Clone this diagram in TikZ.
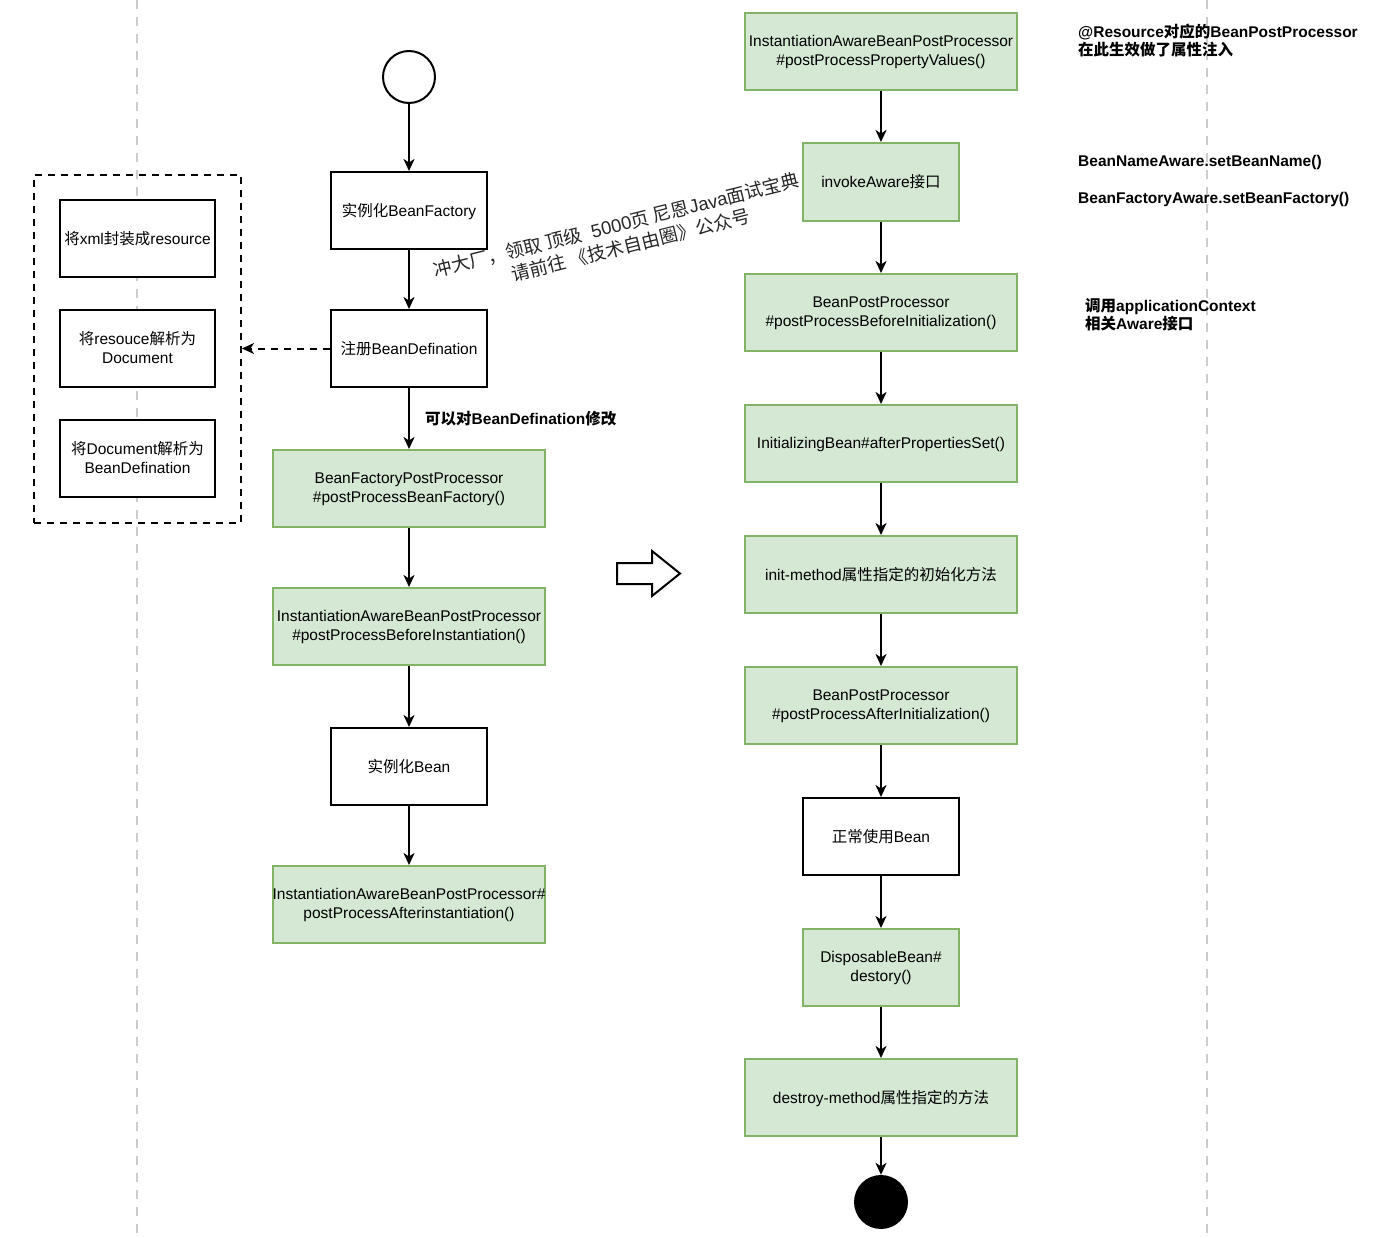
\documentclass[tikz,border=0pt]{standalone}
\usepackage{fontspec}
\setmainfont{Liberation Sans}
\newfontfamily\cjk{Noto Sans CJK SC}
\newcommand{\zh}[1]{{\cjk #1}}
\usetikzlibrary{arrows.meta}
\definecolor{gfill}{HTML}{D5E8D4}
\definecolor{gline}{HTML}{82B366}
\definecolor{guide}{HTML}{CCCCCC}
\begin{document}
\begin{tikzpicture}[x=1pt,y=-1pt,
  every node/.style={font=\fontsize{15.5}{19}\selectfont},
  plainbox/.style={draw=black,line width=2pt,fill=white,minimum width=156pt,minimum height=77pt,inner sep=0pt,align=center,text depth=1.5pt},
  widebox/.style={plainbox,minimum width=272pt},
  greenbox/.style={draw=gline,line width=2pt,fill=gfill,minimum height=77pt,inner sep=0pt,align=center,text depth=1.5pt},
  gwide/.style={greenbox,minimum width=272pt},
  gnarrow/.style={greenbox,minimum width=156pt},
  flow/.style={draw=black,line width=2pt,-{Stealth[length=12pt,width=11pt,inset=3.5pt]}},
  note/.style={anchor=west,align=left,inner sep=0pt,font=\fontsize{15.5}{18}\selectfont\bfseries},
  guideline/.style={draw=guide,line width=2.5pt,dash pattern=on 9pt off 8pt}
]
\useasboundingbox (0,0) rectangle (1400,1237);
\fill[white] (0,0) rectangle (1400,1237);
% guides
\coordinate (g1t) at (137,0); \coordinate (g1b) at (137,1237);
\coordinate (g2t) at (1207,0); \coordinate (g2b) at (1207,1237);
\path[guideline] (g1t) -- (g1b);
\path[guideline] (g2t) -- (g2b);

% watermark
\node[rotate=14,align=center,inner sep=0pt,text=black!85,font=\fontsize{18.5}{23}\selectfont] (wm) at (628,234)
  {\zh{冲大厂，领取 顶级}\ \ 5000\zh{页 尼恩}Java\zh{面试宝典，}\\\zh{请前往 《技术自由圈》公众号}};

% left dashed group
\node[draw=black,line width=2pt,dash pattern=on 7pt off 6pt,minimum width=207pt,minimum height=348pt,inner sep=0pt] (grp) at (137.5,349) {};
\node[plainbox,minimum width=155pt] (x1) at (137.5,238.5) {\zh{将}xml\zh{封装成}resource};
\node[plainbox,minimum width=155pt] (x2) at (137.5,348.5) {\zh{将}resouce\zh{解析为}\\Document};
\node[plainbox,minimum width=155pt] (x3) at (137.5,458.5) {\zh{将}Document\zh{解析为}\\BeanDefination};

% left column
\node[circle,draw=black,line width=2pt,fill=white,minimum size=52pt,inner sep=0pt] (start) at (409,77) {};
\node[plainbox] (bf) at (409,210.5) {\zh{实例化}BeanFactory};
\node[plainbox] (reg) at (409,348.5) {\zh{注册}BeanDefination};
\node[gwide] (bfpp) at (409,488.5) {BeanFactoryPostProcessor\\\#postProcessBeanFactory()};
\node[gwide] (iab) at (409,626.5) {InstantiationAwareBeanPostProcessor\\\#postProcessBeforeInstantiation()};
\node[plainbox] (inst) at (409,766.5) {\zh{实例化}Bean};
\node[gwide] (iaa) at (409,904.5) {InstantiationAwareBeanPostProcessor\#\\postProcessAfterinstantiation()};

\draw[flow] (start) -- (bf);
\draw[flow] (bf) -- (reg);
\draw[flow] (reg) -- (bfpp);
\draw[flow] (bfpp) -- (iab);
\draw[flow] (iab) -- (inst);
\draw[flow] (inst) -- (iaa);
\draw[flow,dash pattern=on 7pt off 6pt] (reg.west) -- (grp.east |- reg.west);

\node[note] (lbl) at (425,419) {\zh{可以对}BeanDefination\zh{修改}};

% hollow arrow
\coordinate (h1) at (617,563); \coordinate (h2) at (652,563); \coordinate (h3) at (652,551);
\coordinate (h4) at (680,573.5); \coordinate (h5) at (652,596); \coordinate (h6) at (652,584);
\coordinate (h7) at (617,584);
\draw[line width=2pt,fill=white,line join=miter] (h1) -- (h2) -- (h3) -- (h4) -- (h5) -- (h6) -- (h7) -- cycle;

% right column
\node[gwide] (ppv) at (881,51.5) {InstantiationAwareBeanPostProcessor\\\#postProcessPropertyValues()};
\node[gnarrow,minimum height=78pt] (aw) at (881,182) {invokeAware\zh{接口}};
\node[gwide] (bpb) at (881,312.5) {BeanPostProcessor\\\#postProcessBeforeInitialization()};
\node[gwide] (ibs) at (881,443.5) {InitializingBean\#afterPropertiesSet()};
\node[gwide] (im) at (881,574.5) {init-method\zh{属性指定的初始化方法}};
\node[gwide] (bpa) at (881,705.5) {BeanPostProcessor\\\#postProcessAfterInitialization()};
\node[plainbox] (use) at (881,836.5) {\zh{正常使用}Bean};
\node[gnarrow] (disp) at (881,967.5) {DisposableBean\#\\destory()};
\node[gwide] (dm) at (881,1097.5) {destroy-method\zh{属性指定的方法}};
\node[circle,fill=black,minimum size=54pt,inner sep=0pt] (end) at (881,1202) {};

\draw[flow] (ppv) -- (aw);
\draw[flow] (aw) -- (bpb);
\draw[flow] (bpb) -- (ibs);
\draw[flow] (ibs) -- (im);
\draw[flow] (im) -- (bpa);
\draw[flow] (bpa) -- (use);
\draw[flow] (use) -- (disp);
\draw[flow] (disp) -- (dm);
\draw[flow] (dm) -- (end);

% notes
\node[note] (n1) at (1078,41) {@Resource\zh{对应的}BeanPostProcessor\\\zh{在此生效做了属性注入}};
\node[note] (n2) at (1078,162) {BeanNameAware.setBeanName()};
\node[note] (n3) at (1078,199) {BeanFactoryAware.setBeanFactory()};
\node[note] (n4) at (1085,315) {\zh{调用}applicationContext\\\zh{相关}Aware\zh{接口}};
\end{tikzpicture}
\end{document}
